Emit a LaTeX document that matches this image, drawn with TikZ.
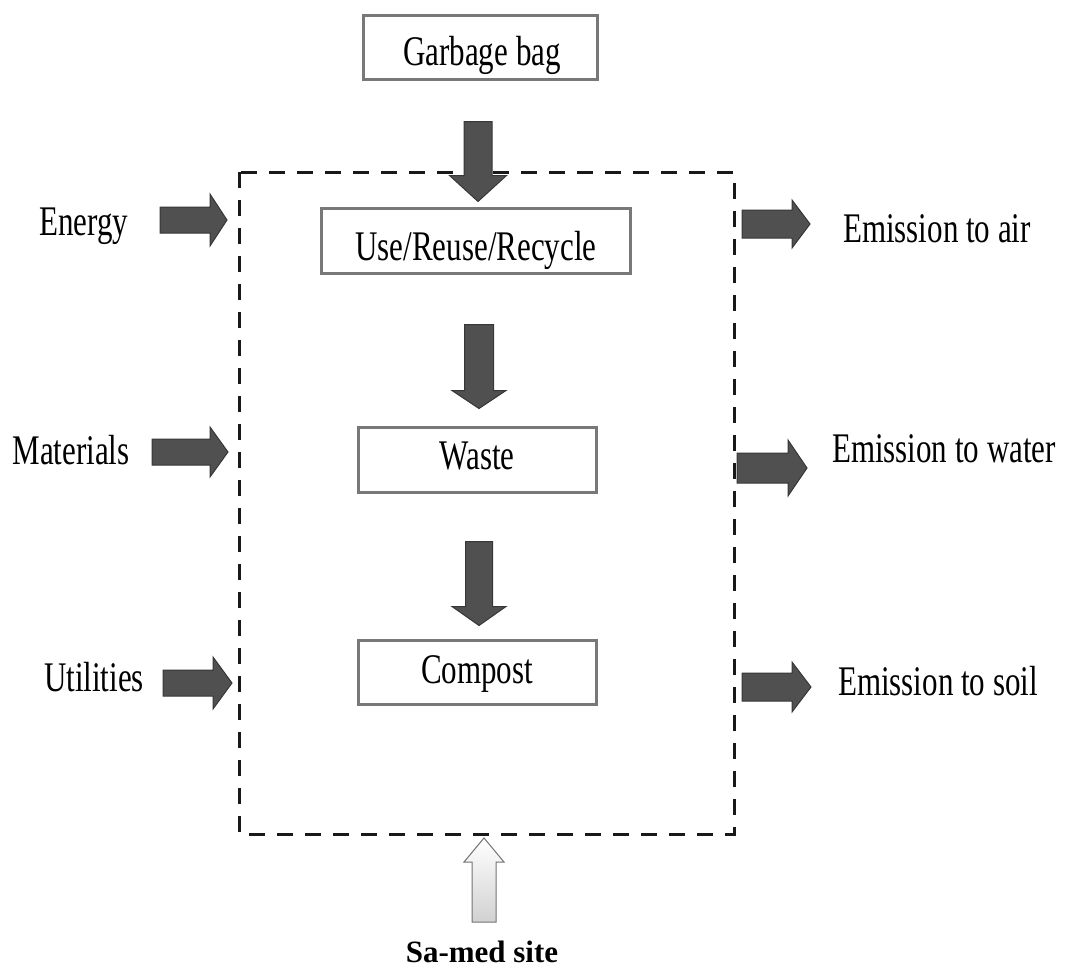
\documentclass[tikz,border=0pt]{standalone}
\usepackage{graphicx}
\usepackage{fontspec}
\setmainfont{Liberation Serif}
\usetikzlibrary{calc}
\definecolor{boxgray}{RGB}{120,120,120}
\definecolor{arrfill}{RGB}{80,80,80}
\definecolor{arrline}{RGB}{55,55,55}
\newcommand\tallt[1]{\scalebox{1}[1.36]{#1}}
\tikzset{
  procbox/.style={draw=boxgray, line width=3pt, minimum width=#1, minimum height=64pt, inner sep=0pt},
  lbl/.style={anchor=base, inner sep=0pt, font=\fontsize{31}{37}\selectfont},
  darr/.style={fill=arrfill, draw=arrline, line width=1pt, line join=miter},
  harr/.style={top color=white, bottom color=black!18, draw=black!55, line width=1pt},
  boundary/.style={draw=black!90, line width=3pt, dash pattern=on 16pt off 12pt}
}
% block arrows: tip coordinate, total length, head length, shaft half width, head half width
\newcommand\blkdown[6][darr]{\path[#1] ($(#2)+(-#5,-#3)$) -- ($(#2)+(#5,-#3)$) -- ($(#2)+(#5,-#4)$) -- ($(#2)+(#6,-#4)$) -- (#2) -- ($(#2)+(-#6,-#4)$) -- ($(#2)+(-#5,-#4)$) -- cycle;}
\newcommand\blkright[6][darr]{\path[#1] ($(#2)+(-#3,-#5)$) -- ($(#2)+(-#4,-#5)$) -- ($(#2)+(-#4,-#6)$) -- (#2) -- ($(#2)+(-#4,#6)$) -- ($(#2)+(-#4,#5)$) -- ($(#2)+(-#3,#5)$) -- cycle;}
\newcommand\blkup[6][harr]{\path[#1] ($(#2)+(-#5,#3)$) -- ($(#2)+(-#5,#4)$) -- ($(#2)+(-#6,#4)$) -- (#2) -- ($(#2)+(#6,#4)$) -- ($(#2)+(#5,#4)$) -- ($(#2)+(#5,#3)$) -- cycle;}
\begin{document}
\begin{tikzpicture}[x=1pt,y=-1pt]
\useasboundingbox (0,0) rectangle (1067,970);

% system boundary
\draw[boundary] (239,172) rectangle (734,834);

% process boxes
\node[procbox=234pt] (gb) at (480,47) {};
\node[lbl] (gbt) at (482,65) {\tallt{Garbage bag}};
\node[procbox=309pt, minimum height=65pt] (use) at (475.5,240.5) {};
\node[lbl] (uset) at (476,260) {\tallt{Use/Reuse/Recycle}};
\node[procbox=238pt, minimum height=65pt] (waste) at (477,459.5) {};
\node[lbl] (wastet) at (477,469) {\tallt{Waste}};
\node[procbox=238pt] (comp) at (477,672) {};
\node[lbl] (compt) at (477,683) {\tallt{Compost}};

% vertical flow arrows
\coordinate (t1) at ($(use.north)+(2.5,-5)$);
\coordinate (t2) at ($(waste.north)+(2,-17)$);
\coordinate (t3) at ($(comp.north)+(2,-13)$);
\blkdown{t1}{80}{26}{14}{28.5}
\blkdown{t2}{84}{18}{14.5}{27}
\blkdown{t3}{84}{19}{13.5}{27}

% inputs
\node[lbl] (energy) at (84,235) {\tallt{Energy}};
\node[lbl] (mat) at (71,464) {\tallt{Materials}};
\node[lbl] (util) at (94,691) {\tallt{Utilities}};
\coordinate (te) at (227,220);
\coordinate (tm) at (228,452);
\coordinate (tu) at (232,683);
\blkright{te}{67}{17}{13}{26}
\blkright{tm}{76}{18}{13}{25}
\blkright{tu}{69}{19}{13}{26}

% outputs
\node[lbl] (air) at (937,242) {\tallt{Emission to air}};
\node[lbl] (water) at (944,462) {\tallt{Emission to water}};
\node[lbl] (soil) at (938,695) {\tallt{Emission to soil}};
\coordinate (ta) at (810,224);
\coordinate (tw) at (807,468);
\coordinate (ts) at (811,687);
\blkright{ta}{68}{18}{14}{24}
\blkright{tw}{70}{19}{15}{28}
\blkright{ts}{69}{19}{14}{25}

% site
\node[lbl, font=\fontsize{31}{37}\selectfont\bfseries] (site) at (482,962) {Sa-med site};
\coordinate (tsite) at (484,838);
\blkup{tsite}{84}{24}{12}{20}
\end{tikzpicture}
\end{document}
